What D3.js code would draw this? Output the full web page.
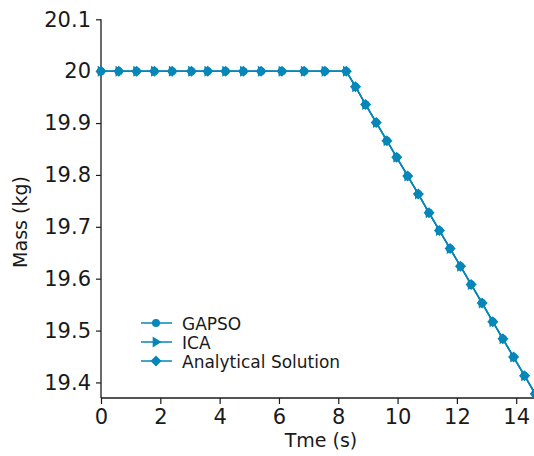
<!DOCTYPE html>
<html>
<head>
<meta charset="utf-8">
<script src="https://cdn.jsdelivr.net/npm/d3@7/dist/d3.min.js"></script>
<style>
  html, body { margin: 0; padding: 0; background: #fff; }
  svg { display: block; font-family: "DejaVu Sans", "Liberation Sans", sans-serif; }
</style>
</head>
<body>
<svg id="chart" width="534" height="456"></svg>
<script>
// Sample times (s) and vehicle mass (kg)
const time = [0, 0.6, 1.2, 1.8, 2.4, 3.05, 3.6, 4.2, 4.8, 5.4, 6.1, 6.85, 7.55, 8.27,
  8.58, 8.92, 9.28, 9.64, 9.97, 10.34, 10.70, 11.06, 11.41, 11.77, 12.12, 12.48,
  12.85, 13.21, 13.55, 13.91, 14.28, 14.64];
const massGAPSO = [20, 20, 20, 20, 20, 20, 20, 20, 20, 20, 20, 20, 20, 20,
  19.970, 19.936, 19.901, 19.866, 19.834, 19.798, 19.763, 19.727, 19.693, 19.658,
  19.624, 19.589, 19.553, 19.517, 19.484, 19.449, 19.413, 19.378];
const massICA = [20, 20, 20, 20, 20, 20, 20, 20, 20, 20, 20, 20, 20, 20,
  19.970, 19.936, 19.901, 19.866, 19.834, 19.798, 19.763, 19.727, 19.693, 19.658,
  19.624, 19.589, 19.553, 19.517, 19.484, 19.449, 19.413, 19.378];
const massAnalytical = [20, 20, 20, 20, 20, 20, 20, 20, 20, 20, 20, 20, 20, 20,
  19.970, 19.936, 19.901, 19.866, 19.834, 19.798, 19.763, 19.727, 19.693, 19.658,
  19.624, 19.589, 19.553, 19.517, 19.484, 19.449, 19.413, 19.378];

const xTicks = [0, 2, 4, 6, 8, 10, 12, 14];
const yTicks = [19.4, 19.5, 19.6, 19.7, 19.8, 19.9, 20, 20.1];
const seriesNames = ["GAPSO", "ICA", "Analytical Solution"];

const color = "#0786b8";
const textColor = "#1a1a1a";

const svg = d3.select("#chart");
const plotLeft = 101, plotRight = 534, plotTop = 19.3, plotBottom = 398;

const x = d3.scaleLinear().domain([0, 14.6]).range([plotLeft, plotRight]);
const y = d3.scaleLinear().domain([19.37, 20.1]).range([plotBottom, plotTop]);

// clip region for the data
svg.append("defs").append("clipPath").attr("id", "plot-clip")
  .append("rect").attr("x", plotLeft - 8).attr("y", plotTop - 8)
  .attr("width", plotRight - plotLeft + 8).attr("height", plotBottom - plotTop + 8);

// axes
const xAxis = svg.append("g").attr("transform", `translate(0,${plotBottom})`)
  .call(d3.axisBottom(x).tickValues(xTicks).tickSize(6).tickSizeOuter(0).tickPadding(5)
    .tickFormat(d3.format("d")));
const yAxis = svg.append("g").attr("transform", `translate(${plotLeft},0)`)
  .call(d3.axisLeft(y).tickValues(yTicks).tickSize(5).tickSizeOuter(0).tickPadding(5)
    .tickFormat(d => d3.format("")(d)));

[xAxis, yAxis].forEach(g => {
  g.attr("font-size", null).attr("font-family", null);
  g.select(".domain").attr("stroke", textColor).attr("stroke-width", 1.3);
  g.selectAll(".tick line").attr("stroke", textColor).attr("stroke-width", 1.2);
  g.selectAll(".tick text").attr("fill", textColor).attr("font-size", 21);
});
xAxis.select(".domain").attr("d", `M${plotLeft},0H${plotRight}`);
yAxis.select(".domain").attr("d", `M0,${plotTop}V${plotBottom}`);

// axis titles
svg.append("text").attr("x", 321).attr("y", 447).attr("text-anchor", "middle")
  .attr("fill", textColor).attr("font-size", 19).text("Tme (s)");
svg.append("text").attr("transform", "translate(27,222) rotate(-90)")
  .attr("text-anchor", "middle").attr("fill", textColor).attr("font-size", 19)
  .text("Mass (kg)");

// marker shapes
const circleSym = d3.symbol().type(d3.symbolCircle).size(50);
function triangleRight(s) {
  return `M${-s * 0.6},${-s}L${s},0L${-s * 0.6},${s}Z`;
}
function diamond(s) {
  return `M0,${-s}L${s},0L0,${s}L${-s},0Z`;
}
const markers = [
  (g) => g.append("path").attr("d", circleSym()),
  (g) => g.append("path").attr("d", triangleRight(5.5)),
  (g) => g.append("path").attr("d", diamond(5.5))
];

const line = d3.line().x(d => x(d[0])).y(d => y(d[1]));
const plot = svg.append("g").attr("clip-path", "url(#plot-clip)");
[massGAPSO, massICA, massAnalytical].forEach((mass, i) => {
  const pts = time.map((t, j) => [t, mass[j]]);
  plot.append("path").datum(pts).attr("d", line)
    .attr("fill", "none").attr("stroke", color).attr("stroke-width", 1.5);
  const g = plot.append("g");
  pts.forEach(p => {
    const m = g.append("g").attr("transform", `translate(${x(p[0])},${y(p[1])})`)
      .attr("fill", color);
    markers[i](m);
  });
});

// legend
const legend = svg.append("g");
const legendY = [323, 342, 361];
seriesNames.forEach((name, i) => {
  const row = legend.append("g").attr("transform", `translate(0,${legendY[i]})`);
  row.append("line").attr("x1", 141).attr("x2", 172).attr("y1", 0).attr("y2", 0)
    .attr("stroke", color).attr("stroke-width", 1.5);
  const m = row.append("g").attr("transform", "translate(156,0)").attr("fill", color);
  markers[i](m);
  row.append("text").attr("x", 182).attr("y", 6.5).attr("fill", textColor)
    .attr("font-size", 17).text(name);
});
</script>
</body>
</html>
